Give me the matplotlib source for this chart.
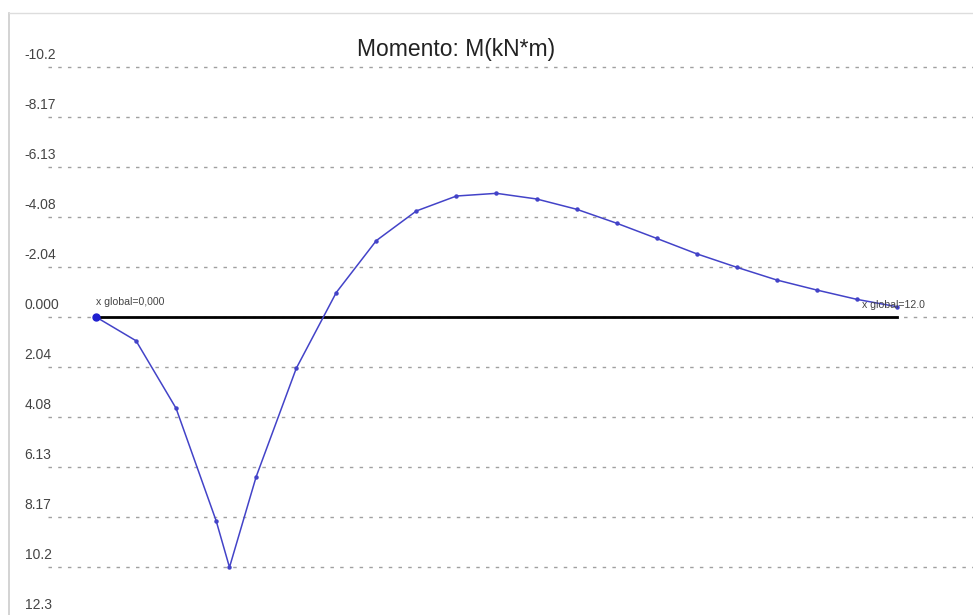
import matplotlib.pyplot as plt
from matplotlib.lines import Line2D

# posições ao longo da viga (m) e momento (kN*m)
x_pos = [0.0, 0.6, 1.2, 1.8, 2.0, 2.4, 3.0, 3.6, 4.2, 4.8, 5.4, 6.0, 6.6,
         7.2, 7.8, 8.4, 9.0, 9.6, 10.2, 10.8, 11.4, 12.0]
momento = [0.0, 0.97, 3.73, 8.32, 10.22, 6.52, 2.10, -1.00, -3.12, -4.33,
           -4.94, -5.05, -4.82, -4.40, -3.83, -3.21, -2.58, -2.03, -1.51,
           -1.10, -0.72, -0.42]

# linhas de grade
tick_vals = [-10.2083, -8.1667, -6.125, -4.0833, -2.0417, 0.0, 2.0417,
             4.0833, 6.125, 8.1667, 10.2083, 12.25]
tick_labels = ["-10.2", "-8.17", "-6.13", "-4.08", "-2.04", "0.000",
               "2.04", "4.08", "6.13", "8.17", "10.2", "12.3"]

fig = plt.figure(figsize=(9.73, 6.15), dpi=100)
ax = fig.add_axes([0, 0, 1, 1])
ax.set_xlim(-1.438, 13.139)
ax.set_ylim(12.168, -12.944)
ax.axis("off")

# borda cinza clara
fig.add_artist(Line2D([9 / 973, 9 / 973], [0, 1 - 13 / 615], color="#cccccc", lw=1.2))
fig.add_artist(Line2D([9 / 973, 1], [1 - 13 / 615, 1 - 13 / 615], color="#dddddd", lw=1.0))

for v, lab in zip(tick_vals, tick_labels):
    ax.plot([-0.719, 13.2], [v, v], color="#a0a0a0", lw=1.0,
            linestyle=(0, (2.5, 4.5)), zorder=1)
    ax.text(-1.07, v - 0.2, lab, ha="left", va="bottom", fontsize=10,
            color="#444444", family="Liberation Sans", clip_on=False)

# eixo da viga
ax.plot([x_pos[0], x_pos[-1]], [0, 0], color="black", lw=2.0, zorder=2)

# diagrama de momento
ax.plot(x_pos, momento, color="#4343c8", lw=1.1, marker="o", ms=2.2, zorder=3)
ax.plot(x_pos[0], momento[0], "o", color="#2020d0", ms=5, zorder=4)

ax.text(0.0, -0.4, "x global=0,000", fontsize=7.6, color="#444444",
        family="Liberation Sans", ha="left", va="bottom")
ax.text(11.48, -0.3, "x global=12.0", fontsize=7.6, color="#444444",
        family="Liberation Sans", ha="left", va="bottom", zorder=5)

ax.text(5.4, -10.45, "Momento: M(kN*m)", fontsize=16.5, color="#222222",
        family="Liberation Sans", ha="center", va="bottom")

fig.savefig("out.png", dpi=100)
